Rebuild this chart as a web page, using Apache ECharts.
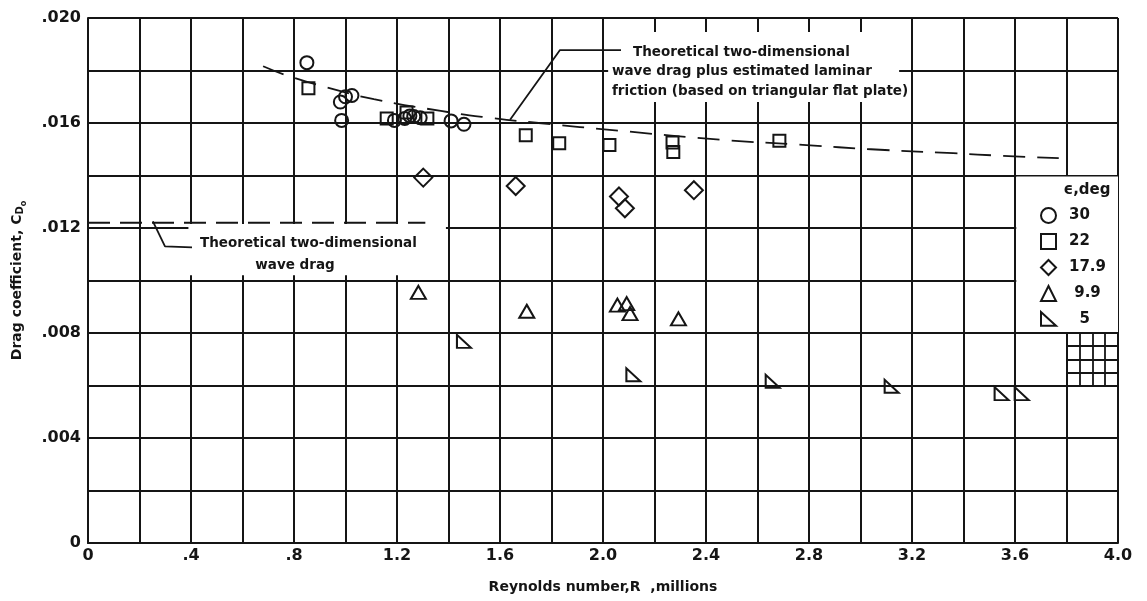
<!DOCTYPE html>
<html><head><meta charset="utf-8">
<script src="https://cdn.jsdelivr.net/npm/echarts@6/dist/echarts.min.js"></script>
<style>html,body{margin:0;padding:0;background:#fff}#c{width:1147px;height:601px}</style>
</head><body><div id="c"></div>
<script>
// ---- tick labels ----
const xTickLabels = ['0', '.4', '.8', '1.2', '1.6', '2.0', '2.4', '2.8', '3.2', '3.6', '4.0'];
const yTickLabels = ['0', '.004', '.008', '.012', '.016', '.020'];
const legendNames = ['30', '22', '17.9', '9.9', '5'];

// ---- data: [Reynolds number (millions), drag coefficient] ----
const eps30 = [[0.85, 0.0183], [0.98, 0.0168], [1.00, 0.0170], [1.025, 0.01705], [0.985, 0.0161],
  [1.19, 0.0161], [1.23, 0.01617], [1.25, 0.01627], [1.265, 0.01625], [1.29, 0.0162],
  [1.41, 0.01608], [1.46, 0.01595]];
const eps22 = [[0.856, 0.01732], [1.16, 0.01617], [1.237, 0.0164], [1.318, 0.01617], [1.70, 0.01553],
  [1.83, 0.01523], [2.025, 0.01516], [2.27, 0.01526], [2.273, 0.0149], [2.685, 0.01532]];
const eps179 = [[1.302, 0.01392], [1.661, 0.0136], [2.062, 0.0132], [2.085, 0.01275], [2.353, 0.01344]];
const eps99 = [[1.283, 0.00955], [1.704, 0.00883], [2.056, 0.00906], [2.092, 0.00912], [2.105, 0.00874], [2.293, 0.00854]];
const eps5 = [[1.46, 0.00768], [2.118, 0.00641], [2.659, 0.00616], [3.121, 0.00597], [3.548, 0.00569], [3.626, 0.00569]];

// theoretical wave drag + laminar friction (dashed curve)
const frictionX = [0.68, 0.77, 0.93, 1.11, 1.37, 1.56, 1.75, 2.07, 2.46, 2.79, 3.04, 3.36, 3.55, 3.77];
const frictionY = [0.01816, 0.01782, 0.01735, 0.01691, 0.01646, 0.0162, 0.0160, 0.0157, 0.01536, 0.01516, 0.0150, 0.01485, 0.01475, 0.01466];
// theoretical two-dimensional wave drag (dashed line)
const waveDragX = [0, 1.31];
const waveDragY = [0.0122, 0.0122];

const ink = '#151515';
const FONT = '"DejaVu Sans", sans-serif';
const chart = echarts.init(document.getElementById('c'));

function markerSeries(name, data, symbol, size) {
  return {
    type: 'scatter', name: name, data: data, symbol: symbol, symbolSize: size,
    itemStyle: { color: 'rgba(0,0,0,0)', borderColor: ink, borderWidth: 2, opacity: 1 },
    emphasis: { disabled: true }, silent: true, z: 6
  };
}
const RT = 'path://M0,0 L0,10 L11,10 Z';

function xLabel(v) {
  const k = Math.round(v / 0.4);
  return Math.abs(v / 0.4 - k) < 1e-6 ? (xTickLabels[k] || '') : '';
}
function yLabel(v) {
  const k = Math.round(v / 0.004);
  return Math.abs(v / 0.004 - k) < 1e-6 ? (yTickLabels[k] || '') : '';
}

const gridLines = [[{ coord: [3.6, 0.008] }, { coord: [3.6, 0.014] }]];
[3.85, 3.9, 3.95].forEach(function (x) { gridLines.push([{ coord: [x, 0.006] }, { coord: [x, 0.008] }]); });
[0.0065, 0.007, 0.0075].forEach(function (y) { gridLines.push([{ coord: [3.8, y] }, { coord: [4.0, y] }]); });

function txt(s, x, y, size, align) {
  return { type: 'text', x: x, y: y, z: 100, zlevel: 1,
    style: { text: s, font: 'bold ' + size + 'px ' + FONT, fill: ink, align: align || 'left', verticalAlign: 'middle' } };
}

const option = {
  backgroundColor: '#fff',
  animation: false,
  grid: { left: 88, top: 18, width: 1030, height: 525, show: false },
  xAxis: {
    type: 'value', min: 0, max: 4, interval: 0.2,
    axisLine: { show: true, lineStyle: { color: ink, width: 2 } },
    axisTick: { show: false },
    splitLine: { show: true, lineStyle: { color: ink, width: 2 } },
    axisLabel: { formatter: xLabel, fontFamily: FONT, fontWeight: 'bold', fontSize: 16, color: ink, margin: 5 },
    name: 'Reynolds number,R  ,millions',
    nameLocation: 'middle', nameGap: 37,
    nameTextStyle: { fontFamily: FONT, fontWeight: 'bold', fontSize: 14, color: ink }
  },
  yAxis: {
    type: 'value', min: 0, max: 0.02, interval: 0.002,
    axisLine: { show: true, lineStyle: { color: ink, width: 2 } },
    axisTick: { show: false },
    splitLine: { show: true, lineStyle: { color: ink, width: 2 } },
    axisLabel: { formatter: yLabel, fontFamily: FONT, fontWeight: 'bold', fontSize: 16, color: ink, margin: 7 },
    name: 'Drag coefficient, C{d|D}{o|o}',
    nameLocation: 'middle', nameGap: 60, nameRotate: 90,
    nameTextStyle: {
      fontFamily: FONT, fontWeight: 'bold', fontSize: 14, color: ink,
      rich: {
        d: { fontFamily: FONT, fontWeight: 'bold', fontSize: 10, color: ink, verticalAlign: 'top', padding: [8, 0, 0, 0] },
        o: { fontFamily: FONT, fontWeight: 'bold', fontSize: 8, color: ink, verticalAlign: 'top', padding: [13, 0, 0, 0] }
      }
    }
  },
  legend: {
    orient: 'vertical', left: 1035, top: 202, itemWidth: 15, itemHeight: 15, itemGap: 9,
    selectedMode: false,
    data: legendNames,
    formatter: function (n) { return n === '9.9' ? ' 9.9' : (n === '5' ? '  5' : n); },
    textStyle: { fontFamily: FONT, fontWeight: 'bold', fontSize: 15, color: ink, padding: [0, 0, 0, 8] },
    itemStyle: { color: 'rgba(0,0,0,0)', borderColor: ink, borderWidth: 2, opacity: 1 }
  },
  series: [
    {
      type: 'line', data: [], silent: true, z: 2,
      markArea: {
        silent: true,
        itemStyle: { color: '#fff' },
        data: [
          [{ xAxis: 2.02, yAxis: 0.01947 }, { xAxis: 3.15, yAxis: 0.0168 }],
          [{ xAxis: 0.39, yAxis: 0.01215 }, { xAxis: 1.39, yAxis: 0.0102 }],
          [{ xAxis: 3.605, yAxis: 0.01396 }, { xAxis: 4.0, yAxis: 0.00804 }]
        ]
      },
      markLine: {
        silent: true, symbol: 'none', label: { show: false },
        lineStyle: { color: ink, width: 1.8, type: 'solid' },
        data: gridLines
      }
    },
    {
      type: 'line', name: 'friction', data: frictionX.map(function (x, i) { return [x, frictionY[i]]; }),
      smooth: true, showSymbol: false, silent: true, z: 4,
      lineStyle: { color: ink, width: 1.8, type: [22, 12] }
    },
    {
      type: 'line', name: 'wave', data: waveDragX.map(function (x, i) { return [x, waveDragY[i]]; }),
      showSymbol: false, silent: true, z: 4,
      lineStyle: { color: ink, width: 1.8, type: [22, 10] }
    },
    {
      type: 'line', data: [[1.639, 0.01612], [1.833, 0.01878], [2.07, 0.01878]],
      showSymbol: false, silent: true, z: 4, lineStyle: { color: ink, width: 1.8 }
    },
    {
      type: 'line', data: [[0.252, 0.01225], [0.299, 0.0113], [0.404, 0.01126]],
      showSymbol: false, silent: true, z: 4, lineStyle: { color: ink, width: 1.8 }
    },
    markerSeries('30', eps30, 'circle', 13),
    markerSeries('22', eps22, 'rect', 12),
    markerSeries('17.9', eps179, 'diamond', 18),
    markerSeries('9.9', eps99, 'triangle', [15, 13]),
    markerSeries('5', eps5, RT, [14, 13])
  ],
  graphic: [
    txt('\u03F5,deg', 1087, 190, 15, 'center'),
    txt('Theoretical two-dimensional', 633, 52, 13.5),
    txt('wave drag plus estimated laminar', 612, 71, 13.5),
    txt('friction (based on triangular flat plate)', 612, 91, 13.5),
    txt('Theoretical two-dimensional', 200, 243, 13.5),
    txt('wave drag', 295, 265, 13.5, 'center')
  ]
};
chart.setOption(option);
</script>
</body></html>
